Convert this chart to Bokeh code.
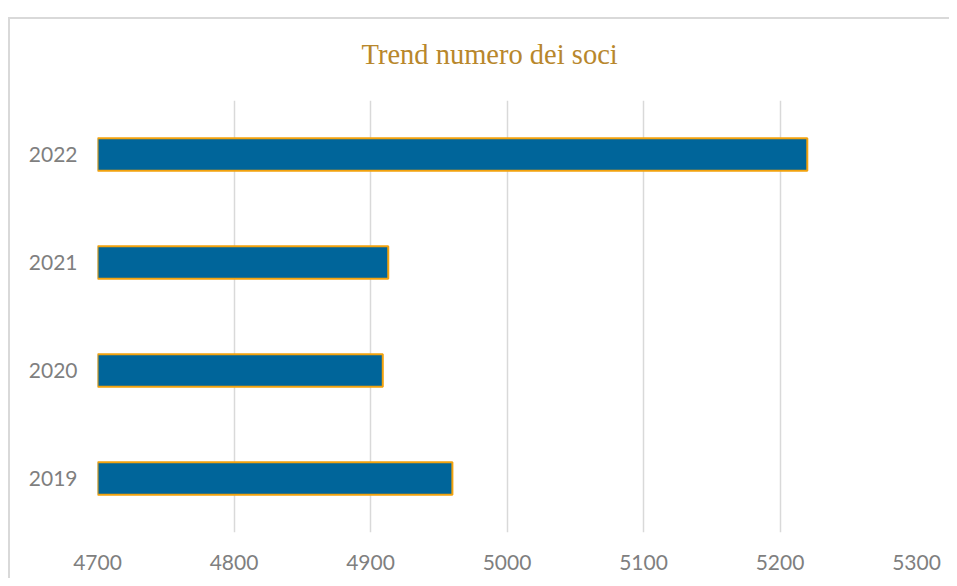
from bokeh.plotting import figure
from bokeh.models import Range1d, FixedTicker, Title
from bokeh.embed import file_html
from bokeh.resources import INLINE

years = ["2019", "2020", "2021", "2022"]
soci = [4960, 4909, 4913, 5220]
x_ticks = [4700, 4800, 4900, 5000, 5100, 5200, 5300]
x_start = 4700
x_end = 5300
title_text = "Trend numero dei soci"

p = figure(
    y_range=years,
    x_range=Range1d(x_start, x_end),
    width=939, height=559,
    frame_width=819, frame_height=432,
    min_border_left=87, min_border_right=33,
    min_border_top=81, min_border_bottom=46,
    output_backend="svg", toolbar_location=None,
)
p.styles = {"margin-top": "17px", "margin-left": "8px",
            "border-top": "2px solid #d9d9d9",
            "border-left": "2px solid #d9d9d9"}

p.hbar(y=years, left=x_start, right=soci, height=0.30,
       fill_color="#00659A", line_color="#F2A20E", line_width=2)

spacer = Title(text=" ", text_font_size="10px", align="left")
try:
    spacer.standoff = 16
except Exception:
    pass
p.add_layout(spacer, "above")

t = Title(text=title_text, align="left", text_font="Liberation Serif",
          text_font_size="28.5px", text_color="#B8872C", text_font_style="normal",
          offset=264)
try:
    t.standoff = 4
except Exception:
    pass
p.add_layout(t, "above")

p.outline_line_color = None
p.background_fill_color = "white"
p.border_fill_color = "white"

p.xaxis.ticker = FixedTicker(ticks=x_ticks)
p.xgrid.ticker = FixedTicker(ticks=x_ticks)
p.xgrid.grid_line_color = "#D9D9D9"
p.xgrid.grid_line_width = 1.5
p.ygrid.grid_line_color = None

for ax in (p.xaxis, p.yaxis):
    ax.axis_line_color = None
    ax.major_tick_line_color = None
    ax.minor_tick_line_color = None
    ax.major_tick_in = 0
    ax.major_tick_out = 0
    ax.major_label_text_font = "Lato"
    ax.major_label_text_font_size = "21px"
    ax.major_label_text_color = "#7F7F7F"

p.xaxis.major_label_standoff = 22
p.yaxis.major_label_standoff = 20

open("out.html", "w").write(file_html(p, INLINE))
